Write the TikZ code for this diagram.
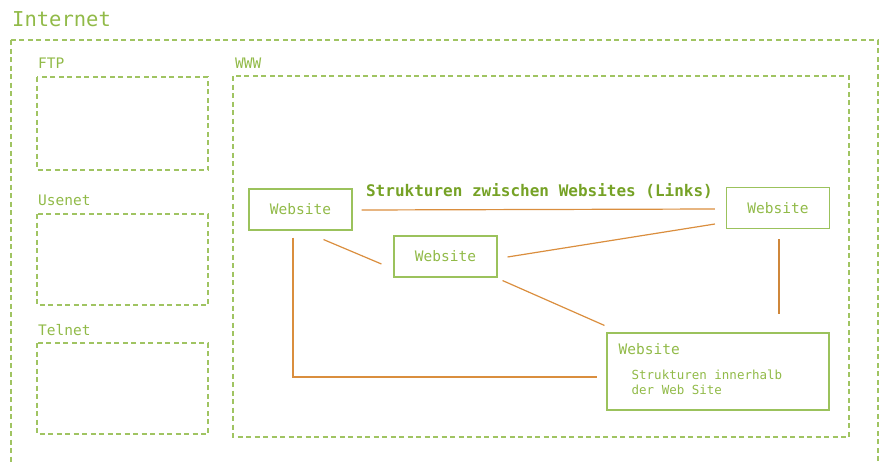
\documentclass[tikz,border=0pt]{standalone}
\usepackage{fontspec}
\setmonofont{DejaVu Sans Mono}
\usepackage{tikz}
\usetikzlibrary{positioning,calc}

\definecolor{textgreen}{RGB}{145,186,72}
\definecolor{titlegreen}{RGB}{118,162,38}
\definecolor{boxgreen}{RGB}{155,194,92}
\definecolor{dashgreen}{RGB}{160,196,98}
\definecolor{linkorange}{RGB}{218,142,62}

\begin{document}
\begin{tikzpicture}[x=1pt, y=-1pt,
	group box/.style={draw=dashgreen, line width=1.2pt, dash pattern=on 5pt off 3.5pt},
	group label/.style={anchor=base west, inner sep=0pt, text=textgreen, font=\ttfamily\fontsize{14.5}{17}\selectfont},
	site node/.style={draw=boxgreen, line width=1.1pt, text=textgreen, minimum width=103pt, minimum height=41pt, inner sep=0pt, font=\ttfamily\fontsize{14.5}{17}\selectfont},
	link/.style={draw=linkorange, line width=1.2pt}]
	
	\clip (0,0) rectangle (887,463);
	
	% Internet and its services
	\node[group label, font=\ttfamily\fontsize{20.5}{24}\selectfont] (internet) at (12,26) {Internet};
	\draw[group box] (11,40) rectangle (878,480);
	
	\node[group label] (ftp) at (38,68) {FTP};
	\draw[group box] (37,77) rectangle (208,170);
	\node[group label] (usenet) at (38,205) {Usenet};
	\draw[group box] (37,214) rectangle (208,305);
	\node[group label] (telnet) at (38,335) {Telnet};
	\draw[group box] (37,343) rectangle (208,434);
	\node[group label] (www) at (235,68) {WWW};
	\draw[group box] (233,76) rectangle (849,437);
	
	% websites
	\node[site node] (w1) at (300.5,209.5) {Website};
	\node[site node] (w2) at (445.5,256.5) {Website};
	\node[site node] (w3) at (778,208) {Website};
	\node[site node, minimum width=222pt, minimum height=77pt] (w4) at (718,371.5) {};
	\node[group label] (w4 head) at ($(w4.north west)+(12,22)$) {Website};
	\node[group label, font=\ttfamily\fontsize{12.5}{15}\selectfont, align=left, anchor=north west]
		(w4 text) at ($(w4.north west)+(25,37)$) {Strukturen innerhalb\\der Web Site};
	
	\node[inner sep=0pt, text=titlegreen, font=\ttfamily\bfseries\fontsize{16}{19}\selectfont] (title) at (539.5,191) {Strukturen zwischen Websites (Links)};
	
	% links
	\path[link]
	($(w1.east)+(9,0.5)$) edge ($(w3.west)+(-11,1)$)
	($(w1.south east)+(-29,9)$) edge ($(w2.west)+(-12,7.5)$)
	($(w2.east)+(10,0.5)$) edge ($(w3.west)+(-11,16)$)
	($(w2.south east)+(5,3)$) edge ($(w4.north west)+(-2,-7)$);
	\draw[link] ($(w1.south)+(-7.5,7)$) |- ($(w4.west)+(-9,5.5)$);
	\draw[link, line width=2pt, draw=linkorange!95!black] ($(w3.south)+(1,10)$) -- ($(w3.south |- w4.north)+(1,-18)$);
\end{tikzpicture}
\end{document}
